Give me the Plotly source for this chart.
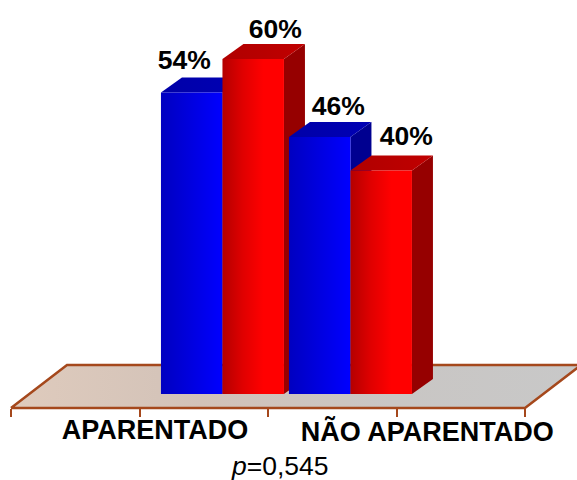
import plotly.graph_objects as go

# Chart data
categories = ["APARENTADO", "NÃO APARENTADO"]
series_blue = [54, 46]
series_red = [60, 40]
note = "<i>p</i>=0,545"

# Drawing geometry, in axis units (x: one tick step, y: percentage points)
W, H = 577, 480
X_UNIT, Y_UNIT = 128.5, 5.585
X_ORIGIN, Y_ORIGIN = 11.0, 394.0
DX, DY = 21 / X_UNIT, 15 / Y_UNIT
BAR_W = 61.5 / X_UNIT
GROUP_LEFT = [1.167, 2.163]
FLOOR_FRONT, FLOOR_BACK = -14 / Y_UNIT, 29 / Y_UNIT
FLOOR_DX = 56 / X_UNIT
TICKS = [0, 1, 2, 3, 4]
EDGE = "#a5481c"
TEXT_DROP = 3 / Y_UNIT  # centres text glyphs on their anchor


def grad(colors):
    n = len(colors) - 1
    return dict(type="horizontal", colorscale=[[i / n, c] for i, c in enumerate(colors)])


def poly(xs, ys, gradient=None, color=None, line=None):
    trace = dict(x=xs + xs[:1], y=ys + ys[:1], mode="lines", fill="toself",
                 hoverinfo="skip", showlegend=False,
                 line=line or dict(width=0))
    if gradient:
        trace["fillgradient"] = grad(gradient)
    else:
        trace["fillcolor"] = color
    return go.Scatter(**trace)


fig = go.Figure()

# Floor of the 3D plot
fig.add_trace(poly([0, 4, 4 + FLOOR_DX, FLOOR_DX],
                   [FLOOR_FRONT, FLOOR_FRONT, FLOOR_BACK, FLOOR_BACK],
                   gradient=["#dfcbbd", "#d2c2b8", "#c9c6c4", "#c8c8c8"],
                   line=dict(color=EDGE, width=2.5)))

BLUE = dict(front=["#0000c0", "#0000e0", "#0000ff"], top=["#0000a8", "#0000b4"],
            side="#000090")
RED = dict(front=["#b40000", "#e00000", "#ff0000", "#ff0000"], top=["#b00000", "#c00000"],
           side="#960000")


def add_bar(left, value, style):
    right = left + BAR_W
    # right side, top, then the front face over them
    fig.add_trace(poly([right, right + DX, right + DX, right],
                       [0, DY, value + DY, value], color=style["side"]))
    fig.add_trace(poly([left, right, right + DX, left + DX],
                       [value, value, value + DY, value + DY], gradient=style["top"]))
    fig.add_trace(poly([left, right, right, left],
                       [0, 0, value, value], gradient=style["front"]))


for g, left in enumerate(GROUP_LEFT):
    add_bar(left, series_blue[g], BLUE)
    add_bar(left + BAR_W, series_red[g], RED)


def text(x, y, label, size, bold=True):
    fig.add_trace(go.Scatter(x=[x], y=[y - TEXT_DROP], mode="text", hoverinfo="skip", showlegend=False,
                             text=[f"<b>{label}</b>" if bold else label],
                             textposition="middle center", cliponaxis=False,
                             textfont=dict(family="Liberation Sans", size=size, color="#000000")))


# Value labels: (value, bar left edge, label offset in x and y)
label_specs = [
    (series_blue[0], GROUP_LEFT[0], -7.5 / X_UNIT, 33 / Y_UNIT),
    (series_red[0], GROUP_LEFT[0] + BAR_W, 22 / X_UNIT, 31 / Y_UNIT),
    (series_blue[1], GROUP_LEFT[1], 18.5 / X_UNIT, 32 / Y_UNIT),
    (series_red[1], GROUP_LEFT[1] + BAR_W, 25 / X_UNIT, 35 / Y_UNIT),
]
for value, left, ox, oy in label_specs:
    text(left + BAR_W / 2 + ox, value + oy, f"{value}%", 26.5)

text(1.12, -35 / Y_UNIT, categories[0], 27)
text(3.24, -37 / Y_UNIT, categories[1], 27)
text(2.095, -71 / Y_UNIT, note, 26.5, bold=False)

fig.update_layout(
    width=W, height=H, autosize=False,
    margin=dict(l=0, r=0, t=0, b=0),
    paper_bgcolor="#ffffff", plot_bgcolor="#ffffff",
    showlegend=False,
    xaxis=dict(range=[-X_ORIGIN / X_UNIT, (W - X_ORIGIN) / X_UNIT], domain=[0, 1],
               tickvals=TICKS, showticklabels=False, ticks="outside", ticklen=8,
               tickwidth=2, tickcolor=EDGE, showgrid=False, zeroline=False, showline=False,
               anchor="free", position=(H - 408) / H, layer="above traces"),
    yaxis=dict(range=[(Y_ORIGIN - H) / Y_UNIT, Y_ORIGIN / Y_UNIT], domain=[0, 1],
               visible=False, showgrid=False, zeroline=False),
)

fig.write_html("out.html", config=dict(displayModeBar=False))
